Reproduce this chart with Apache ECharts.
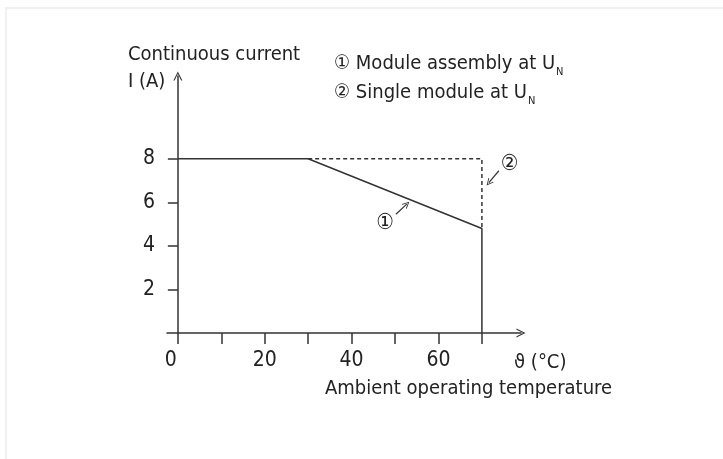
<!DOCTYPE html>
<html>
<head>
<meta charset="utf-8">
<script src="https://cdn.jsdelivr.net/npm/echarts@6/dist/echarts.min.js"></script>
<style>
  html, body { margin: 0; padding: 0; background: #fff; }
  #chart { width: 723px; height: 459px; }
</style>
</head>
<body>
<div id="chart"></div>
<script>
'use strict';

// curve 1: module assembly at UN
const assemblyT = [0, 30, 70, 70]
const assemblyI = [8, 8, 4.8, 0]
// curve 2: single module at UN (dashed part)
const singleT = [30, 70, 70]
const singleI = [8, 8, 4.8]

const xTickValues = [0, 10, 20, 30, 40, 50, 60, 70]
const xLabelValues = [0, 20, 40, 60]
const yTickValues = [2, 4, 6, 8]

// callouts: label pos, arrow from, arrow to (data units)
const callout1 = { text: '①', at: [47.7, 5.05], from: [50.2, 5.45], to: [52.7, 5.92] }
const callout2 = { text: '②', at: [76.4, 7.75], from: [73.9, 7.45], to: [71.6, 6.9] }

const FONT = "'Liberation Sans Narrow', 'DejaVu Sans Condensed', sans-serif"
const INK = '#222'
const LINE = '#333'
// thin open chevron, points up
const CHEVRON = 'path://M0,100 L50,0 L100,100 L86,100 L50,26 L14,100 Z'

const myChart = echarts.init(document.getElementById('chart'))

const toPairs = (xs, ys) => xs.map((x, i) => [x, ys[i]])

const calloutMarks = (c) => ({
    markPoint: {
        symbol: 'circle',
        symbolSize: 1,
        itemStyle: { color: 'rgba(0,0,0,0)' },
        label: { show: true, position: 'inside', formatter: c.text, color: INK, fontSize: 22, fontFamily: FONT },
        data: [{ coord: c.at }]
    },
    markLine: {
        silent: true,
        symbol: ['none', CHEVRON],
        symbolSize: [7, 7],
        lineStyle: { color: LINE, width: 1.2, type: 'solid' },
        label: { show: false },
        data: [[{ coord: c.from }, { coord: c.to }]]
    }
})

const option = {
    animation: false,
    backgroundColor: '#fff',
    textStyle: { fontFamily: FONT, color: INK },
    graphic: [{
        type: 'rect',
        shape: { x: 6, y: 8, width: 730, height: 470 },
        style: { fill: 'none', stroke: '#f0f0f0', lineWidth: 2 },
        silent: true
    }],
    title: [{
        text: 'Continuous current\nI (A)',
        left: 123, top: 36,
        textStyle: { fontSize: 20, fontWeight: 'normal', color: INK, fontFamily: FONT, lineHeight: 27 }
    }, {
        text: '① Module assembly at U{sub|N}\n② Single module at U{sub|N}',
        left: 329, top: 44,
        textStyle: {
            fontSize: 20, fontWeight: 'normal', color: INK, fontFamily: FONT, lineHeight: 29,
            rich: { sub: { fontSize: 11, fontFamily: FONT, color: INK, verticalAlign: 'bottom', padding: [14, 0, 0, 1] } }
        }
    }, {
        text: 'ϑ (°C)',
        left: 509, top: 348,
        textStyle: { fontSize: 20, fontWeight: 'normal', color: INK, fontFamily: FONT }
    }, {
        text: 'Ambient operating temperature',
        left: 320, top: 374,
        textStyle: { fontSize: 20, fontWeight: 'normal', color: INK, fontFamily: FONT }
    }],
    grid: { left: 167, right: 202, top: 76, bottom: 126 },
    xAxis: {
        type: 'value',
        min: -2.5,
        max: 79,
        axisLine: { lineStyle: { color: LINE, width: 1.5 }, symbol: ['none', CHEVRON], symbolSize: [9, 9] },
        axisTick: { show: true, customValues: xTickValues, length: 11, lineStyle: { color: LINE, width: 1.5 } },
        axisLabel: {
            customValues: xLabelValues, margin: 17, fontSize: 21, color: INK, fontFamily: FONT,
            formatter: (v) => v === 0 ? '{z|0}' : String(v),
            rich: { z: { fontSize: 21, fontFamily: FONT, color: INK, padding: [0, 14, 0, 0] } }
        },
        splitLine: { show: false }
    },
    yAxis: {
        type: 'value',
        min: 0,
        max: 11.8,
        axisLine: { show: true, onZero: true, lineStyle: { color: LINE, width: 1.5 }, symbol: ['none', CHEVRON], symbolSize: [9, 9] },
        axisTick: { show: true, customValues: yTickValues, length: 10, lineStyle: { color: LINE, width: 1.5 } },
        axisLabel: { customValues: yTickValues, margin: 12, fontSize: 21, color: INK, fontFamily: FONT },
        splitLine: { show: false }
    },
    series: [{
        name: 'Module assembly at UN',
        type: 'line',
        data: toPairs(assemblyT, assemblyI),
        symbol: 'none',
        lineStyle: { color: LINE, width: 1.5 },
        z: 3,
        ...calloutMarks(callout1)
    }, {
        name: 'Single module at UN',
        type: 'line',
        data: toPairs(singleT, singleI),
        symbol: 'none',
        lineStyle: { color: LINE, width: 1.5, type: [4, 3] },
        z: 2,
        ...calloutMarks(callout2)
    }]
}

myChart.setOption(option)
</script>
</body>
</html>
